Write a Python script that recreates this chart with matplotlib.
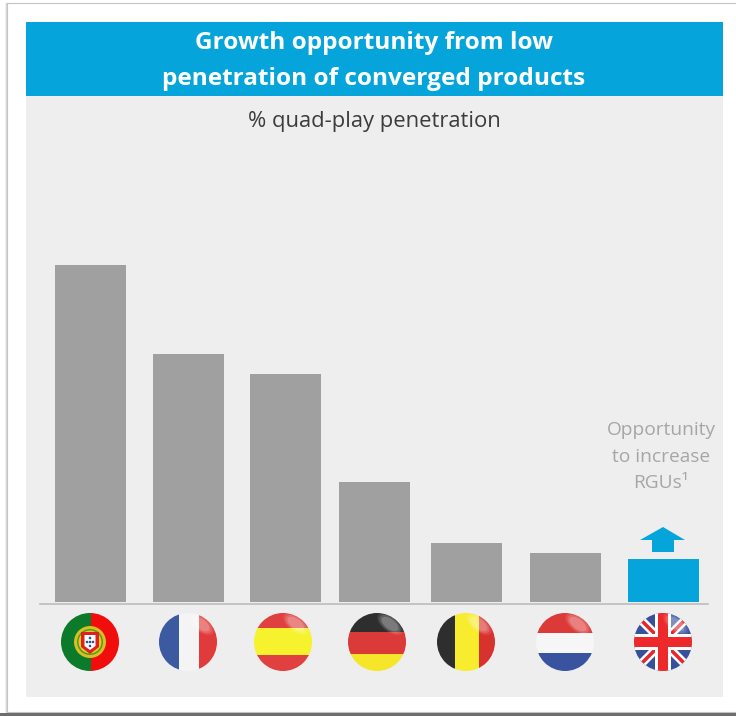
import numpy as np
import matplotlib
matplotlib.use('Agg')
from matplotlib import pyplot as plt
from matplotlib.patches import Circle, Ellipse, Polygon, Rectangle

countries = ['Portugal', 'France', 'Spain', 'Germany', 'Belgium', 'Netherlands', 'UK']
penetration = [33.7, 24.8, 22.8, 12.0, 5.9, 4.9, 4.3]

title_lines = ['Growth opportunity from low', 'penetration of converged products']
subtitle = '% quad-play penetration'
note_lines = ['Opportunity', 'to increase', 'RGUs¹']

BLUE = '#05a5dc'
GREY = '#a0a0a0'
PANEL = '#eeeeee'

# bars are not evenly spaced on the slide
bar_centers = [90.5, 188.5, 285.5, 374.5, 466.5, 565, 663]
flag_centers = [90, 188, 283, 377, 466, 565, 663]
bar_width = 71

fig = plt.figure(figsize=(7.36, 7.16), dpi=100, facecolor='white')

# background layer in pixel coordinates
bg = fig.add_axes([0, 0, 1, 1])
bg.set_xlim(0, 736)
bg.set_ylim(716, 0)
bg.axis('off')

# slide frame with a soft shadow
for off, col in [(2, '#f0f0f0'), (1, '#d8d8d8')]:
    bg.add_patch(Rectangle((7 - off, 3), 740, 710 + off, fc=col, ec='none'))
bg.add_patch(Rectangle((7, 3), 740, 709, fc='white', ec='#c4c4c4', lw=0.8))
bg.add_patch(Rectangle((0, 713), 736, 3, fc='#6e6e6e', ec='none'))
bg.add_patch(Rectangle((26, 96), 697, 601, fc=PANEL, ec='none'))
bg.add_patch(Rectangle((26, 22), 697, 74, fc=BLUE, ec='none'))

bg.text(374, 43, title_lines[0], color='white', fontsize=17.6, fontweight='bold',
        family='Open Sans', ha='center', va='center')
bg.text(374, 79, title_lines[1], color='white', fontsize=17.6, fontweight='bold',
        family='Open Sans', ha='center', va='center')
bg.text(374, 122, subtitle, color='#3c3c3c', fontsize=15.8, family='Open Sans',
        ha='center', va='center')

for y, line in zip([430, 457, 483], note_lines):
    bg.text(661, y, line, color='#a6a6a6', fontsize=13.8, family='Open Sans',
            ha='center', va='center')

# bar axes: baseline at y=602, one unit is ten pixels
ax = fig.add_axes([0, (716 - 602) / 716, 1, 500 / 716])
ax.patch.set_alpha(0)
ax.set_xlim(0, 736)
ax.set_ylim(0, 50)
ax.axis('off')
colors = [GREY] * 6 + [BLUE]
ax.bar(bar_centers, penetration, width=bar_width, color=colors, linewidth=0)

# top layer for axis line, arrow and flags
top = fig.add_axes([0, 0, 1, 1])
top.patch.set_alpha(0)
top.set_xlim(0, 736)
top.set_ylim(716, 0)
top.axis('off')
top.plot([40, 708], [604, 604], color='#bcbcbc', lw=1.2)
top.add_patch(Polygon([(663, 527), (685, 540), (674, 540), (674, 552), (652, 552),
                       (652, 540), (640, 540)], fc=BLUE, ec='none'))

R = 29
CY = 642


def clip_box(cx, x0, y0, x1, y1, color, clip):
    p = Rectangle((cx + x0, CY + y0), x1 - x0, y1 - y0, fc=color, ec='none')
    top.add_patch(p)
    p.set_clip_path(clip)
    return p


def clip_poly(cx, pts, color, clip):
    p = Polygon([(cx + a, CY + b) for a, b in pts], fc=color, ec='none')
    top.add_patch(p)
    p.set_clip_path(clip)


def stripes_v(cx, cols, edges, clip):
    for c, a, b in zip(cols, edges[:-1], edges[1:]):
        clip_box(cx, a, -R, b, R, c, clip)


def stripes_h(cx, cols, edges, clip):
    for c, a, b in zip(cols, edges[:-1], edges[1:]):
        clip_box(cx, -R, a, R, b, c, clip)


def portugal(cx, clip):
    stripes_v(cx, ['#0b7a2a', '#f20d0d'], [-R, 1, R], clip)
    top.add_patch(Circle((cx, CY), 16, fc='#d8c022', ec='none'))
    top.add_patch(Circle((cx, CY), 13, fc='#4f9a2a', ec='none'))
    top.add_patch(Circle((cx, CY), 11.5, fc='#e8c81e', ec='none'))
    top.add_patch(Polygon([(cx - 9, CY - 10), (cx + 9, CY - 10), (cx + 9, CY + 5),
                           (cx, CY + 12), (cx - 9, CY + 5)], fc='#e02020', ec='none'))
    top.add_patch(Polygon([(cx - 5.5, CY - 7), (cx + 5.5, CY - 7), (cx + 5.5, CY + 4),
                           (cx, CY + 8), (cx - 5.5, CY + 4)], fc='white', ec='none'))
    for dx, dy in [(0, -4), (-3, 0), (0, 0), (3, 0), (0, 4)]:
        top.add_patch(Circle((cx + dx, CY + dy), 1.3, fc='#2a4fa0', ec='none'))


def uk(cx, clip):
    clip_box(cx, -R, -R, R, R, '#36509c', clip)
    for s in (1, -1):
        clip_poly(cx, [(-R, -R * s + 6 * s), (-R, -R * s - 6 * s), (R, R * s - 6 * s),
                       (R, R * s + 6 * s)], 'white', clip)
        clip_poly(cx, [(-R, -R * s + 2.5 * s), (-R, -R * s - 2.5 * s), (R, R * s - 2.5 * s),
                       (R, R * s + 2.5 * s)], '#e8262a', clip)
    clip_box(cx, -8, -R, 8, R, 'white', clip)
    clip_box(cx, -R, -8, R, 8, 'white', clip)
    clip_box(cx, -5, -R, 5, R, '#ec2a2c', clip)
    clip_box(cx, -R, -5, R, 5, '#ec2a2c', clip)


def draw_flag(cx, name):
    clip = Circle((cx, CY), R, transform=top.transData)
    if name == 'Portugal':
        portugal(cx, clip)
    elif name == 'France':
        stripes_v(cx, ['#3c5aa0', '#f4f4f4', '#e03a3a'], [-R, -9, 11, R], clip)
    elif name == 'Spain':
        stripes_h(cx, ['#e04040', '#f6f32e', '#e04040'], [-R, -14, 13, R], clip)
    elif name == 'Germany':
        stripes_h(cx, ['#2e2e2e', '#dc3a38', '#f5e62a'], [-R, -10, 12, R], clip)
    elif name == 'Belgium':
        stripes_v(cx, ['#2e2e2e', '#f7ec2e', '#d8322e'], [-R, -11, 13, R], clip)
    elif name == 'Netherlands':
        stripes_h(cx, ['#dc3a38', '#f6f6f6', '#3a539f'], [-R, -9, 11, R], clip)
    elif name == 'UK':
        uk(cx, clip)
    # glossy highlight in the upper right, skipped on the plain Portuguese flag
    if name == 'Portugal':
        return
    for w, a in [(30, 0.10), (25, 0.14), (20, 0.18)]:
        g = Ellipse((cx + 13, CY - 18), w, w * 0.5, angle=38, fc='white', ec='none', alpha=a)
        top.add_patch(g)
        g.set_clip_path(clip)


for name, cx in zip(countries, flag_centers):
    draw_flag(cx, name)

plt.savefig('out.png', dpi=100)
